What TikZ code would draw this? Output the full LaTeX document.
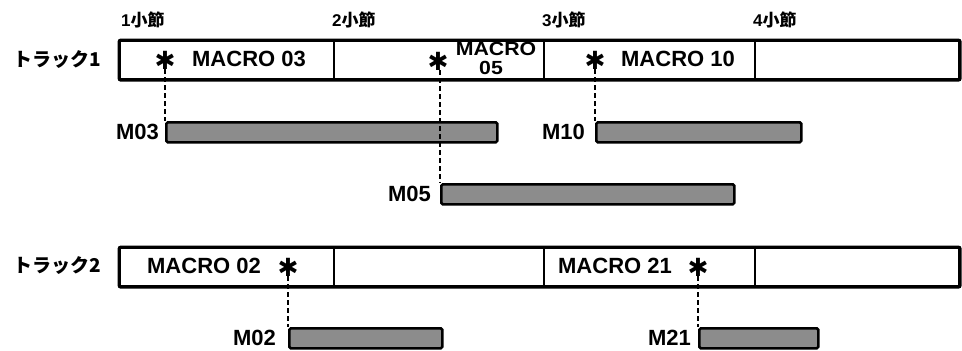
\documentclass[tikz,border=0pt]{standalone}
\usepackage{fontspec}
\setmainfont{Liberation Sans}
\newfontfamily\jpfont{Noto Sans CJK JP}
\newfontfamily\symfont{DejaVu Sans}
\begin{document}
\begin{tikzpicture}[x=1pt,y=-1pt,
  lbl/.style={inner sep=0pt, font=\fontsize{22}{24}\selectfont\bfseries},
  meas/.style={inner sep=0pt, anchor=west, font=\fontsize{17}{18}\selectfont\bfseries},
  trk/.style={inner sep=0pt, anchor=east, font=\fontsize{19}{22}\selectfont\jpfont\bfseries},
  star/.style={inner sep=0pt, font=\fontsize{25}{25}\selectfont\symfont\bfseries},
  bar/.style={draw=black, line width=2.6pt, fill=black!45, rounded corners=1.5pt, anchor=north west, inner sep=0pt, minimum height=20pt},
  cell/.style={draw=black, line width=2.2pt, anchor=north west, inner sep=0pt, minimum height=38pt},
  conn/.style={line width=1.3pt, dash pattern=on 5pt off 3pt},
  m05/.style={inner sep=0pt, anchor=base, font=\fontsize{19}{19}\selectfont\bfseries\addfontfeature{FakeStretch=1.12}}
]
\useasboundingbox (0,0) rectangle (962,351);
% measure labels
\node[meas] (m1) at (121,20) {1{\jpfont\bfseries 小節}};
\node[meas] (m2) at (332,20) {2{\jpfont\bfseries 小節}};
\node[meas] (m3) at (542,20) {3{\jpfont\bfseries 小節}};
\node[meas] (m4) at (753,20) {4{\jpfont\bfseries 小節}};
% track labels
\node[trk] (t1) at (101,60) {トラック1};
\node[trk] (t2) at (101,266) {トラック2};
% track 1 cells
\node[cell, minimum width=214pt] (c11) at (119,40) {};
\node[cell, minimum width=210pt] (c12) at (333,40) {};
\node[cell, minimum width=211pt] (c13) at (543,40) {};
\node[cell, minimum width=204pt] (c14) at (754,40) {};
\draw[line width=3pt, rounded corners=2pt] (c11.north west) rectangle (c14.south east);
% track 2 cells
\node[cell, minimum width=214pt] (c21) at (119,247) {};
\node[cell, minimum width=210pt] (c22) at (333,247) {};
\node[cell, minimum width=211pt] (c23) at (543,247) {};
\node[cell, minimum width=204pt] (c24) at (754,247) {};
\draw[line width=3pt, rounded corners=2pt] (c21.north west) rectangle (c24.south east);
% texts in track 1
\node[star] (a1) at (165,60) {✱};
\node[lbl] (x03) at (249,59) {MACRO 03};
\node[star] (a2) at (438,61) {✱};
\node[m05] (x05a) at (496,55.5) {MACRO};
\node[m05] (x05b) at (491,74) {05};
\node[star] (a3) at (595,60) {✱};
\node[lbl] (x10) at (678,59) {MACRO 10};
% texts in track 2
\node[lbl] (x02) at (204,266) {MACRO 02};
\node[star] (a4) at (288,267) {✱};
\node[lbl] (x21) at (615,266) {MACRO 21};
\node[star] (a5) at (698,267) {✱};
% bars
\node[bar, minimum width=331pt] (b03) at (165,121) {};
\node[bar, minimum width=293pt] (b05) at (440,183) {};
\node[bar, minimum width=205pt] (b10) at (595,121) {};
\node[bar, minimum width=153pt] (b02) at (288,327) {};
\node[bar, minimum width=119pt] (b21) at (698,327) {};
% bar labels
\node[lbl, anchor=east] (l03) at (159,132) {M03};
\node[lbl, anchor=east] (l05) at (431,194) {M05};
\node[lbl, anchor=east] (l10) at (585,132) {M10};
\node[lbl, anchor=east] (l02) at (276,338) {M02};
\node[lbl, anchor=east] (l21) at (691,338) {M21};
% connectors
\draw[conn] (a1.south -| b03.north west) -- (b03.north west);
\draw[conn] (a2.south -| b05.north west) -- (b05.north west);
\draw[conn] (a3.south -| b10.north west) -- (b10.north west);
\draw[conn] (a4.south -| b02.north west) -- (b02.north west);
\draw[conn] (a5.south -| b21.north west) -- (b21.north west);
\end{tikzpicture}
\end{document}
